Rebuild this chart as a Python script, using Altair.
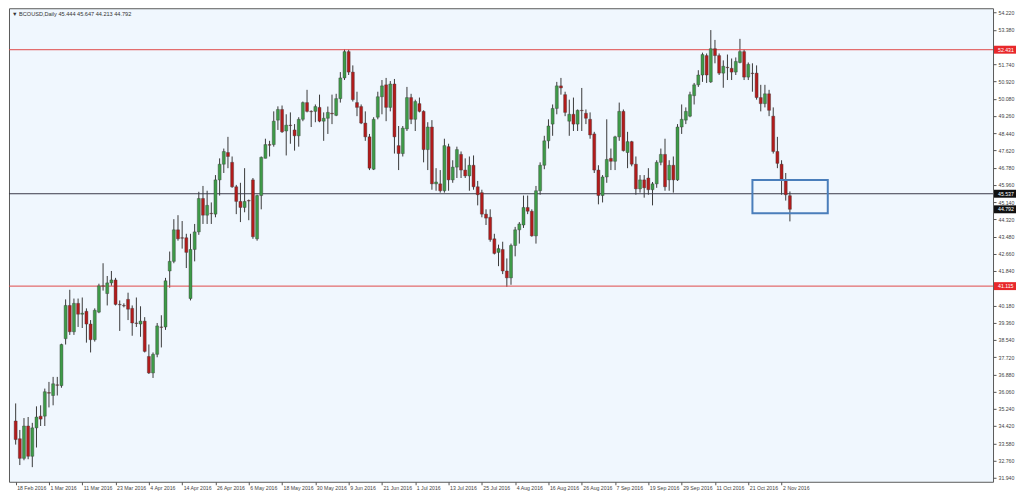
import altair as alt
import pandas as pd

# ---------------- data ----------------
opens = [
    34.66, 33.81, 32.87, 34.42, 32.97, 34.33, 34.89, 34.89, 36.02, 35.88,
    36.39, 36.35, 38.60, 40.19, 38.93, 40.29, 39.77, 39.91, 39.30, 38.55,
    39.87, 41.13, 40.76, 41.27, 41.41, 40.24, 40.19, 40.48, 40.05, 39.35,
    39.30, 39.44, 37.75, 36.96, 37.85, 39.16, 39.16, 41.84, 42.30, 43.81,
    43.43, 43.43, 40.52, 42.87, 43.71, 45.31, 44.51, 44.60, 44.56, 46.20,
    46.95, 47.51, 47.04, 45.87, 45.17, 44.88, 45.21, 46.20, 43.38, 45.45,
    47.23, 47.89, 47.89, 49.06, 49.57, 48.54, 48.82, 48.59, 48.31, 49.10,
    49.90, 49.48, 49.48, 49.67, 49.01, 49.15, 49.39, 49.29, 50.09, 51.08,
    52.34, 51.36, 49.90, 49.71, 48.92, 48.26, 46.71, 49.20, 50.18, 50.75,
    49.67, 50.79, 47.84, 47.46, 48.64, 50.14, 49.10, 49.85, 49.48, 47.65,
    48.73, 46.01, 46.01, 45.68, 47.79, 46.20, 46.81, 47.42, 46.67, 46.39,
    46.90, 45.87, 45.59, 44.56, 44.41, 43.38, 42.73, 42.87, 41.84, 41.51,
    43.06, 43.81, 44.04, 44.88, 44.70, 43.52, 45.68, 46.90, 48.07, 48.87,
    49.62, 50.70, 50.28, 49.01, 49.34, 48.87, 49.53, 49.39, 49.10, 48.40,
    46.67, 45.45, 46.34, 47.23, 47.09, 48.26, 49.48, 47.51, 48.03, 46.95,
    45.77, 46.20, 46.29, 45.73, 46.01, 47.04, 47.42, 46.20, 46.90, 46.20,
    48.73, 49.06, 49.25, 50.23, 50.75, 51.22, 52.15, 50.89, 52.48, 52.15,
    51.31, 51.59, 51.54, 51.36, 51.82, 52.34, 51.12, 51.31, 51.31, 50.14,
    49.85, 50.32, 49.25, 47.56, 46.95, 46.15, 45.444,
]
highs = [
    35.50, 34.23, 34.80, 34.85, 34.57, 35.36, 35.41, 36.21, 36.53, 36.77,
    36.77, 38.36, 40.48, 40.94, 40.52, 40.52, 40.57, 40.05, 39.49, 40.05,
    41.23, 42.21, 41.60, 41.84, 41.51, 40.43, 40.29, 40.80, 40.19, 40.57,
    40.15, 39.63, 38.32, 37.94, 39.35, 39.72, 41.51, 42.77, 44.32, 44.51,
    44.23, 43.62, 43.62, 44.09, 45.63, 45.91, 45.68, 45.12, 46.43, 47.23,
    47.70, 48.26, 47.32, 45.96, 46.06, 46.76, 45.26, 46.29, 45.49, 47.32,
    48.17, 48.07, 49.48, 49.72, 49.76, 49.34, 49.43, 48.87, 49.20, 49.95,
    50.51, 49.53, 49.81, 50.28, 49.43, 49.71, 50.28, 50.32, 51.36, 52.45,
    52.43, 51.68, 50.42, 49.81, 49.48, 48.40, 49.20, 50.42, 50.98, 51.08,
    50.93, 51.03, 48.78, 48.78, 50.65, 50.32, 50.04, 50.14, 49.53, 48.96,
    49.06, 46.76, 46.67, 48.17, 47.93, 47.14, 47.79, 47.56, 47.23, 47.32,
    47.37, 46.15, 45.73, 44.79, 44.79, 43.62, 43.10, 43.24, 42.44, 43.15,
    43.95, 44.18, 45.45, 45.45, 44.79, 45.91, 47.04, 48.31, 49.10, 49.81,
    50.89, 51.08, 50.42, 50.04, 50.14, 49.57, 50.60, 49.57, 49.43, 48.50,
    46.90, 46.43, 49.10, 47.70, 48.31, 49.90, 49.57, 48.50, 48.07, 47.32,
    46.43, 46.43, 46.76, 46.10, 47.14, 47.70, 48.17, 47.14, 47.32, 48.87,
    49.81, 49.67, 50.42, 50.84, 51.45, 52.29, 52.25, 53.37, 52.90, 52.25,
    51.92, 52.20, 52.01, 52.06, 52.95, 52.43, 51.82, 51.78, 51.68, 50.75,
    50.75, 50.51, 49.67, 48.26, 47.14, 46.53, 45.647,
]
lows = [
    33.53, 32.55, 32.78, 32.83, 32.45, 33.39, 34.42, 34.42, 35.31, 35.41,
    35.88, 36.25, 38.32, 38.78, 38.78, 39.16, 39.11, 38.41, 37.94, 38.46,
    39.82, 40.90, 40.19, 41.13, 40.19, 38.97, 40.10, 39.49, 38.74, 39.16,
    38.69, 37.94, 36.91, 36.72, 37.71, 38.18, 39.02, 41.04, 42.21, 43.29,
    42.91, 41.98, 40.43, 42.30, 43.57, 44.09, 44.09, 44.09, 44.41, 45.45,
    46.53, 46.76, 45.82, 44.56, 44.18, 44.65, 44.27, 43.38, 43.29, 44.79,
    47.23, 47.32, 47.79, 48.59, 48.45, 47.37, 47.93, 47.60, 47.79, 49.01,
    49.43, 48.73, 48.96, 48.96, 48.07, 48.40, 48.87, 49.25, 49.90, 50.98,
    51.22, 49.95, 49.25, 48.87, 48.07, 46.67, 46.67, 49.10, 49.34, 49.01,
    49.48, 47.46, 46.67, 47.32, 48.54, 48.87, 48.54, 49.43, 47.04, 46.67,
    45.73, 45.68, 45.59, 45.59, 45.68, 46.06, 46.29, 46.29, 46.29, 45.68,
    45.73, 44.98, 44.41, 44.04, 43.24, 42.63, 42.07, 41.69, 41.08, 41.18,
    42.54, 43.15, 43.90, 44.56, 43.48, 43.15, 45.49, 46.71, 47.70, 48.31,
    49.34, 50.28, 49.25, 48.31, 48.54, 48.54, 48.54, 48.87, 48.17, 46.53,
    45.03, 45.12, 46.06, 46.67, 46.67, 48.07, 47.56, 46.76, 46.85, 45.49,
    45.59, 45.35, 45.49, 44.98, 45.82, 46.90, 45.68, 45.68, 45.59, 46.15,
    48.40, 48.87, 49.20, 49.81, 50.65, 50.89, 50.84, 50.84, 51.78, 51.22,
    50.61, 50.98, 50.98, 51.22, 51.78, 50.98, 50.98, 50.42, 50.04, 49.48,
    49.67, 49.25, 47.46, 46.76, 45.49, 45.21, 44.213,
]
closes = [
    33.77, 32.87, 34.42, 32.97, 34.33, 34.85, 34.75, 36.06, 35.99, 36.44,
    36.37, 38.32, 40.19, 38.93, 40.29, 39.77, 39.82, 39.30, 38.55, 39.96,
    41.13, 41.11, 41.27, 41.41, 40.24, 40.22, 40.17, 40.01, 39.35, 39.33,
    39.44, 37.99, 36.96, 37.85, 39.21, 39.14, 41.37, 42.30, 43.81, 43.38,
    43.41, 42.73, 42.87, 43.71, 45.31, 44.51, 44.98, 44.58, 46.20, 46.95,
    47.56, 47.32, 45.87, 45.17, 44.88, 45.17, 45.19, 43.48, 45.45, 47.28,
    47.89, 47.86, 49.01, 49.57, 48.50, 48.82, 48.80, 48.31, 49.10, 49.90,
    49.48, 49.46, 49.71, 49.01, 49.15, 49.43, 49.36, 50.09, 51.08, 52.34,
    51.36, 50.04, 49.67, 48.92, 48.26, 46.76, 49.10, 50.18, 50.70, 49.67,
    50.79, 48.26, 47.46, 48.68, 50.14, 49.10, 49.95, 49.48, 47.65, 48.73,
    46.01, 46.10, 45.68, 47.84, 46.20, 46.81, 47.65, 46.67, 46.39, 46.90,
    45.87, 45.49, 44.56, 44.37, 43.34, 42.68, 42.91, 41.84, 41.51, 43.06,
    43.81, 44.09, 44.88, 44.70, 43.52, 45.68, 46.90, 48.07, 48.78, 49.62,
    50.70, 50.60, 49.43, 49.34, 48.87, 49.53, 49.51, 49.15, 48.35, 46.67,
    45.45, 46.34, 47.18, 47.09, 48.26, 49.48, 47.60, 48.03, 46.95, 45.77,
    46.20, 45.82, 45.73, 46.01, 47.04, 47.42, 45.87, 46.90, 46.20, 48.73,
    49.10, 49.48, 50.28, 50.75, 51.22, 52.20, 51.22, 52.48, 52.15, 51.31,
    51.64, 51.57, 51.36, 51.87, 52.34, 51.12, 51.73, 51.29, 50.14, 49.85,
    50.32, 49.53, 47.56, 46.99, 46.24, 45.49, 44.792,
]

date_labels = [
    "18 Feb 2016", "1 Mar 2016", "11 Mar 2016", "23 Mar 2016", "4 Apr 2016",
    "14 Apr 2016", "26 Apr 2016", "6 May 2016", "18 May 2016", "30 May 2016",
    "9 Jun 2016", "21 Jun 2016", "1 Jul 2016", "13 Jul 2016", "25 Jul 2016",
    "4 Aug 2016", "16 Aug 2016", "26 Aug 2016", "7 Sep 2016", "19 Sep 2016",
    "29 Sep 2016", "11 Oct 2016", "21 Oct 2016", "2 Nov 2016",
]
bars_per_label = 8

# price scale labels visible in the reference (the ones hidden under the
# red price tags are left out)
price_ticks = [
    54.22, 53.38, 51.74, 50.92, 50.08, 49.26, 48.44, 47.62, 46.78,
    45.96, 45.14, 44.32, 43.48, 42.66, 41.84, 40.18, 39.36, 38.54,
    37.72, 36.88, 36.06, 35.24, 34.42, 33.58, 32.76, 31.94,
]

red_levels = [52.431, 41.115]
dark_levels = [45.537]

tag_prices = [52.431, 41.115, 45.537, 44.792]
tag_texts = ["52.431", "41.115", "45.537", "44.792"]
tag_fills = ["#E8282B", "#E8282B", "#111111", "#111111"]

box_bars = [177.0, 195.1]
box_prices = [46.20, 44.60]

title_text = "\u25BC BCOUSD,Daily  45.444 45.647 44.213 44.792"

# ---------------- chart ----------------
W, H = 985, 474
FONT = "Liberation Sans"
FS = 5.2
x_dom = [-0.4, 233.6]
y_dom = [31.75, 54.416]

df = pd.DataFrame({"i": list(range(len(opens))), "open": opens, "high": highs,
                   "low": lows, "close": closes})
df["dir"] = ["up" if c >= o else "down" for o, c in zip(opens, closes)]

label_array = "[" + ",".join("'%s'" % s for s in date_labels) + "]"
xscale = alt.Scale(domain=x_dom, nice=False, zero=False)
yscale = alt.Scale(domain=y_dom, nice=False, zero=False)

x_axis = alt.Axis(
    values=[k * bars_per_label for k in range(len(date_labels))],
    labelExpr=label_array + "[round(datum.value/%d)]" % bars_per_label,
    labelAlign="left", labelOffset=1, labelPadding=1, tickSize=3,
    labelFont=FONT, labelFontSize=FS, labelColor="#444", tickColor="#555",
    domain=False, grid=False, title=None, labelOverlap=False,
)
y_axis = alt.Axis(
    orient="right", values=price_ticks, format=".3f", tickSize=3, labelPadding=2,
    labelFont=FONT, labelFontSize=FS, labelColor="#444", tickColor="#555",
    domain=False, grid=False, title=None, labelOverlap=False,
)

base = alt.Chart(df)
wicks = base.mark_rule(color="#3a3a3a", strokeWidth=1).encode(
    x=alt.X("i:Q", scale=xscale, axis=x_axis),
    y=alt.Y("low:Q", scale=yscale, axis=y_axis),
    y2="high:Q",
)
bodies = base.mark_bar(size=3, stroke="#3a3a3a", strokeWidth=0.4).encode(
    x=alt.X("i:Q", scale=xscale, axis=x_axis),
    y=alt.Y("open:Q", scale=yscale, axis=y_axis),
    y2="close:Q",
    color=alt.Color("dir:N", scale=alt.Scale(domain=["up", "down"],
                    range=["#3E9B48", "#B31B1B"]), legend=None),
)

red_lines = alt.Chart(pd.DataFrame({"p": red_levels})).mark_rule(
    strokeWidth=1, color="#E04848"
).encode(
    y=alt.Y("p:Q", scale=yscale, axis=y_axis),
    x=alt.value(0), x2=alt.value(W),
)
dark_lines = alt.Chart(pd.DataFrame({"p": dark_levels})).mark_rule(
    strokeWidth=1, color="#3A3A48"
).encode(
    y=alt.Y("p:Q", scale=yscale, axis=y_axis),
    x=alt.value(0), x2=alt.value(W),
)

tg = pd.DataFrame({"p": tag_prices, "t": tag_texts, "f": tag_fills})
tg["lo"] = tg["p"] - 0.19
tg["hi"] = tg["p"] + 0.19
tag_boxes = alt.Chart(tg).mark_rect(clip=False).encode(
    y=alt.Y("lo:Q", scale=yscale, axis=y_axis), y2="hi:Q",
    x=alt.value(W + 1), x2=alt.value(W + 23),
    color=alt.Color("f:N", scale=None, legend=None),
)
tag_texts_l = alt.Chart(tg).mark_text(
    align="left", baseline="middle", font=FONT, fontSize=FS, color="white", clip=False
).encode(
    y=alt.Y("p:Q", scale=yscale, axis=y_axis),
    x=alt.value(W + 5),
    text="t:N",
)

bx = pd.DataFrame({"x0": [box_bars[0]], "x1": [box_bars[1]],
                   "y0": [box_prices[0]], "y1": [box_prices[1]]})
box = alt.Chart(bx).mark_rect(fillOpacity=0, stroke="#4A7EBB", strokeWidth=2).encode(
    x=alt.X("x0:Q", scale=xscale, axis=x_axis), x2="x1:Q",
    y=alt.Y("y0:Q", scale=yscale, axis=y_axis), y2="y1:Q",
)

title = alt.Chart(pd.DataFrame({"t": [title_text]})).mark_text(
    align="left", baseline="middle", font=FONT, fontSize=5.6, color="#333"
).encode(x=alt.value(3), y=alt.value(6), text="t:N")

chart = alt.layer(wicks, red_lines, dark_lines, bodies, box, tag_boxes, tag_texts_l,
                  title).properties(
    width=W, height=H, padding={"left": 0, "top": 0, "right": 0, "bottom": 0},
    background="white",
).configure_view(fill="#F0F7FE", stroke="#5a5a5a", strokeWidth=1)

chart.save("out.html", embed_options={"renderer": "svg", "actions": False})
